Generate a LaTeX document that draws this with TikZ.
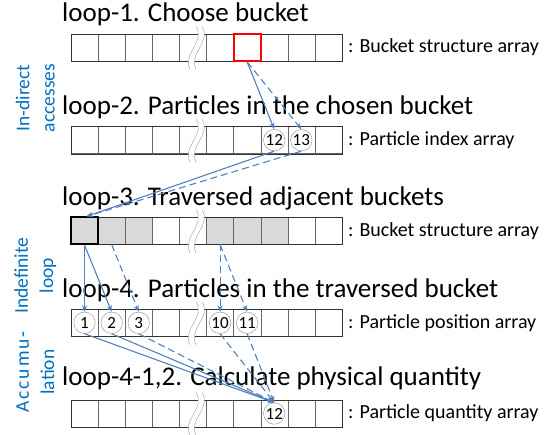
\documentclass[tikz,border=0pt]{standalone}
\usepackage{fontspec}
\setmainfont{Carlito}
\usetikzlibrary{arrows.meta}

\definecolor{arrowblue}{RGB}{79,129,189}
\definecolor{labelblue}{RGB}{0,112,192}
\definecolor{shade}{RGB}{217,217,217}

\begin{document}
\begin{tikzpicture}[
				x=1pt, y=-1pt,
				cell/.style={draw=black!60, minimum width=27.1pt, minimum height=27pt, inner sep=0pt},
				idx/.style={draw=black!45, circle, minimum size=21.5pt, inner sep=0pt, font=\fontsize{17}{18}\selectfont},
				title/.style={anchor=base west, inner sep=0pt, font=\fontsize{27}{32}\selectfont},
				arrlabel/.style={anchor=west, inner sep=0pt, font=\fontsize{20}{22}\selectfont},
				side/.style={rotate=90, align=center, inner sep=0pt, text=labelblue, font=\fontsize{19.5}{25.3}\selectfont},
				link/.style={draw=arrowblue, line width=1.1pt, -{Stealth[length=6.5pt, width=5pt]}},
				dlink/.style={link, dash pattern=on 7pt off 4pt},
				]
				
				\useasboundingbox (0,0) rectangle (552,435);
				
				%% ── Arrays (five rows of ten cells) ───────────────────────────────────
				\foreach \r/\y in {1/47.5, 2/140.2, 3/230.8, 4/322.8, 5/413.5}
				\foreach \c in {1,...,10}
				\node[cell] (r\r-\c) at ({71+27.1*(\c-0.5)}, \y) {};
				
				\foreach \c in {1,2,3,6,7,8}
				\node[cell, fill=shade] at (r3-\c) {};
				
				\foreach \r in {1,...,5}
				\draw[black!80] (r\r-1.north west) rectangle (r\r-10.south east);
				
				%% ── Breaks ─────────────────────────────────────────────────────────────
				\foreach \y in {47.5, 140.2, 230.8, 322.8, 413.5} {
					\fill[white] (196,\y-21) .. controls (206,\y-6) and (182,\y+6) .. (190,\y+22)
					-- (196,\y+22) .. controls (188,\y+6) and (212,\y-6) .. (202,\y-21) -- cycle;
					\draw[black!40] (196,\y-21) .. controls (206,\y-6) and (182,\y+6) .. (190,\y+22);
					\draw[black!40] (202,\y-21) .. controls (212,\y-6) and (188,\y+6) .. (196,\y+22);
				}
				
				%% ── Marked cells ───────────────────────────────────────────────────────
				\node[cell, draw=red, line width=1.8pt] (chosen) at (r1-7) {};
				\node[cell, draw=black, line width=1.8pt, fill=shade] (home) at (r3-1) {};
				
				\node[idx] (i12) at (r2-8) {12};
				\node[idx] (i13) at (r2-9) {13};
				
				\node[idx] (p1)  at (r4-1) {1};
				\node[idx] (p2)  at (r4-2) {2};
				\node[idx] (p3)  at (r4-3) {3};
				\node[idx] (p10) at (r4-6) {10};
				\node[idx] (p11) at (r4-7) {11};
				
				\node[idx] (q12) at (r5-8) {12};
				
				%% ── Titles and array names ─────────────────────────────────────────────
				\node[title] (t1) at (62,22)    {loop-1. Choose bucket};
				\node[title] (t2) at (62,114.7) {loop-2. Particles in the chosen bucket};
				\node[title] (t3) at (62,205.3) {loop-3. Traversed adjacent buckets};
				\node[title] (t4) at (62,297.3) {loop-4. Particles in the traversed bucket};
				\node[title] (t5) at (62,386)   {loop-4-1,2. Calculate physical quantity};
				
				\node[arrlabel] (l1) at (348,47.5)  {: Bucket structure array};
				\node[arrlabel] (l2) at (348,140.2) {: Particle index array};
				\node[arrlabel] (l3) at (348,230.8) {: Bucket structure array};
				\node[arrlabel] (l4) at (348,322.8) {: Particle position array};
				\node[arrlabel] (l5) at (348,413.5) {: Particle quantity array};
				
				\node[side] (s1) at (35.3,98)  {In-direct\\accesses};
				\node[side] (s2) at (35.3,275.5) {Indefinite\\loop};
				\node[side] (s3) at (35.3,372) {{\addfontfeatures{LetterSpace=10}Accumu-}\\lation};
				
				%% ── Accesses ───────────────────────────────────────────────────────────
				\draw[link]  (chosen.south) -- (i12.north);
				\draw[dlink] (chosen.south) -- (i13.north);
				
				\draw[link]  (i12.south) -- ([xshift=2pt]home.north);
				\draw[dlink] (i13.south) -- ([xshift=2pt]home.north);
				
				\draw[link]  (home.south) -- (p1.north);
				\draw[link]  (home.south) -- (p2.north);
				\draw[dlink] (r3-2.south) -- (p3.north);
				\draw[dlink] (r3-6.south) -- (p10.north);
				\draw[dlink] (r3-6.south) -- (p11.north);
				
				\draw[link]  (p1.south)  -- (q12.north);
				\draw[link]  (p2.south)  -- (q12.north);
				\draw[dlink] (p3.south)  -- (q12.north);
				\draw[dlink] (p10.south) -- (q12.north);
				\draw[dlink] (p11.south) -- (q12.north);
				
			\end{tikzpicture}
\end{document}
